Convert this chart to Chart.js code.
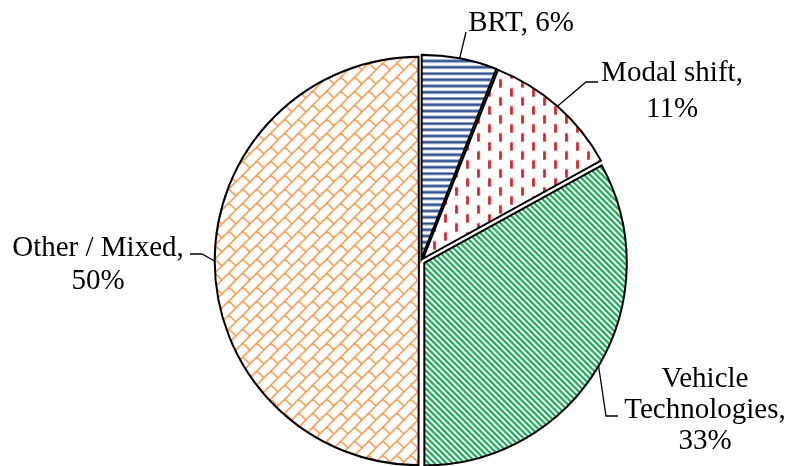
<!DOCTYPE html>
<html>
<head>
<meta charset="utf-8">
<script src="https://cdn.jsdelivr.net/npm/chart.js@4"></script>
<style>
  html, body { margin: 0; padding: 0; background: #fff; }
  canvas { display: block; }
</style>
</head>
<body>
<canvas id="myChart" width="791" height="466"></canvas>
<script>
  // data
  const categories = ['BRT', 'Modal shift', 'Vehicle Technologies', 'Other / Mixed'];
  const shares = [6, 11, 33, 50];
  // how many words of "Name, NN%" go on each line of a label
  const labelBreaks = [[2], [2, 1], [1, 1, 1], [3, 1]];

  // label placement (text centre x, first baseline, line gap, leader bend points)
  const labelLayout = [
    { x: 521, y: 31, gap: 0, leader: [[466, 32]] },
    { x: 672, y: 81, gap: 36, leader: [[586, 82], [598, 82]] },
    { x: 705, y: 387, gap: 31, leader: [[606, 416], [618, 416]] },
    { x: 98, y: 256, gap: 33, leader: [[202, 254], [190, 254]] }
  ];

  const canvas = document.getElementById('myChart');
  const ctx = canvas.getContext('2d');

  function makeTile(w, h, draw) {
    const c = document.createElement('canvas');
    c.width = w;
    c.height = h;
    const g = c.getContext('2d');
    g.fillStyle = '#fff';
    g.fillRect(0, 0, w, h);
    draw(g);
    return ctx.createPattern(c, 'repeat');
  }

  // horizontal navy lines
  const brtFill = makeTile(8, 25, g => {
    for (let k = 0; k < 4; k++) {
      g.fillStyle = '#A9B9D6';
      g.fillRect(0, k * 6.25 - 0.6, 8, 3.4);
      g.fillStyle = '#2A4B88';
      g.fillRect(0, k * 6.25, 8, 2.2);
    }
  });
  // staggered red vertical dashes
  const modalFill = makeTile(22, 18, g => {
    g.fillStyle = '#D0262B';
    g.fillRect(2, 0.5, 2.8, 8.5);
    g.fillRect(13, 9.5, 2.8, 8.5);
  });
  // green downward diagonal stripes
  const vehicleFill = makeTile(18, 18, g => {
    g.strokeStyle = '#10A852';
    g.lineWidth = 2.2;
    g.beginPath();
    for (let k = -3; k <= 3; k++) {
      const c = k * 6;
      g.moveTo(c - 3, -3);
      g.lineTo(c + 21, 21);
    }
    g.stroke();
  });
  // orange diagonal brick
  const s = 14;
  const otherFill = makeTile(s, s, g => {
    g.strokeStyle = '#F6A25B';
    g.lineWidth = 1.7;
    g.beginPath();
    g.moveTo(-2, s + 2); g.lineTo(s + 2, -2);
    g.moveTo(-2, 2); g.lineTo(2, -2);
    g.moveTo(s - 2, s + 2); g.lineTo(s + 2, s - 2);
    [[0, 0], [-s, -s], [-s, 0], [0, -s]].forEach(([dx, dy]) => {
      g.moveTo(s / 2 + dx, s / 2 + dy);
      g.lineTo(s + dx, s + dy);
    });
    g.stroke();
  });

  // every slice pulled out by the same distance, like Excel's explosion
  const explode = 4.3;
  const total = shares.reduce((a, b) => a + b, 0);
  const offsets = shares.map(v => {
    const circ = v / total * Math.PI * 2;
    return 4 * explode / (2 - Math.sin(Math.min(Math.PI, circ)));
  });

  const sliceLabels = {
    id: 'sliceLabels',
    afterDatasetsDraw(chart) {
      const c = chart.ctx;
      const meta = chart.getDatasetMeta(0);
      c.save();
      c.font = '29px "Liberation Serif", "Times New Roman", serif';
      c.fillStyle = '#000';
      c.textAlign = 'center';
      c.textBaseline = 'alphabetic';
      c.strokeStyle = '#000';
      c.lineWidth = 1.3;
      meta.data.forEach((arc, i) => {
        const p = arc.getProps(['x', 'y', 'startAngle', 'endAngle', 'outerRadius', 'circumference']);
        const mid = (p.startAngle + p.endAngle) / 2;
        const o = (arc.options.offset || 0) / 4;
        const shift = o + o * (1 - Math.sin(Math.min(Math.PI, p.circumference)));
        const r = p.outerRadius + shift;
        const lay = labelLayout[i];
        c.beginPath();
        c.moveTo(p.x + Math.cos(mid) * r, p.y + Math.sin(mid) * r);
        lay.leader.forEach(([lx, ly]) => c.lineTo(lx, ly));
        c.stroke();

        const words = (categories[i] + ', ' + shares[i] + '%').split(' ');
        let w = 0;
        labelBreaks[i].forEach((n, li) => {
          const line = words.slice(w, w + n).join(' ');
          w += n;
          c.fillText(line, lay.x, lay.y + li * lay.gap);
        });
      });
      c.restore();
    }
  };

  new Chart(canvas, {
    type: 'pie',
    data: {
      labels: categories,
      datasets: [{
        data: shares,
        backgroundColor: [brtFill, modalFill, vehicleFill, otherFill],
        borderColor: '#000',
        borderWidth: 2,
        borderJoinStyle: 'miter',
        offset: offsets,
        radius: 202,
        clip: false
      }]
    },
    options: {
      responsive: false,
      animation: false,
      radius: 202,
      layout: { padding: { left: 51, top: 56, right: 0, bottom: 0 } },
      plugins: {
        legend: { display: false },
        tooltip: { enabled: false }
      }
    },
    plugins: [sliceLabels]
  });
</script>
</body>
</html>
